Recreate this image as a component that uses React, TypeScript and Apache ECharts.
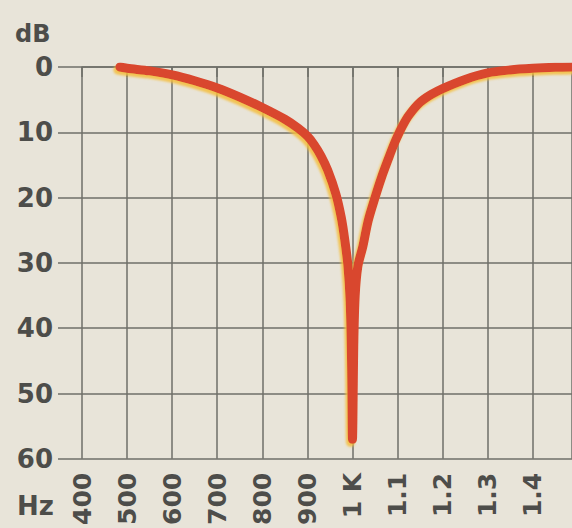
import React, { useEffect, useRef } from "react";
import * as echarts from "echarts";

const freqHz = [484, 500, 550, 600, 650, 700, 750, 800, 850, 880, 900, 915, 930, 945, 963, 975, 983, 990, 995, 998, 1000, 1003, 1006, 1012, 1023, 1035, 1050, 1065, 1080, 1090, 1100, 1112, 1125, 1150, 1175, 1200, 1250, 1300, 1350, 1400, 1450, 1490];
const attenDb = [0, 0.2, 0.6, 1.2, 2.1, 3.2, 4.6, 6.2, 8.0, 9.4, 10.6, 11.9, 13.6, 15.8, 19.4, 23.0, 26.5, 30.5, 36.0, 45.0, 57.0, 42.0, 35.0, 30.5, 27.5, 23.5, 20.0, 16.8, 14.0, 12.2, 10.6, 8.9, 7.4, 5.4, 4.2, 3.3, 1.9, 0.9, 0.45, 0.2, 0.05, 0];

const xTickValues = [400, 500, 600, 700, 800, 900, 1000, 1100, 1200, 1300, 1400];
const xTickLabels = ["400", "500", "600", "700", "800", "900", "1 K", "1.1", "1.2", "1.3", "1.4"];
const yTickValues = [0, 10, 20, 30, 40, 50, 60];

const FONT = "'DejaVu Sans', sans-serif";
const TEXT = "#4d4d4a";
const GRID = "#6f6f68";

export default function App() {
  const ref = useRef<HTMLDivElement>(null);
  useEffect(() => {
    if (!ref.current) return;
    const chart = echarts.init(ref.current, undefined, { renderer: "svg" });
    const labelMap: Record<number, string> = {};
    xTickValues.forEach((v, i) => (labelMap[v] = xTickLabels[i]));
    chart.setOption({
      animation: false,
      backgroundColor: "#e8e4d9",
      grid: { left: 82, right: 0, top: 67, bottom: 65 },
      xAxis: {
        type: "value",
        min: 400,
        max: 1487,
        interval: 100,
        axisLine: { show: true, lineStyle: { color: GRID, width: 1.5 } },
        axisTick: { show: true, inside: false, length: 10, lineStyle: { color: GRID, width: 1.5 } },
        splitLine: { show: true, lineStyle: { color: GRID, width: 1.5 } },
        axisLabel: {
          rotate: 90,
          margin: 14,
          fontFamily: FONT,
          fontWeight: "bold",
          fontSize: 25,
          color: TEXT,
          showMaxLabel: false,
          formatter: (v: number) => labelMap[v] ?? "",
        },
      },
      yAxis: {
        type: "value",
        inverse: true,
        min: 0,
        max: 60,
        interval: 10,
        axisLine: { show: false },
        axisTick: { show: true, inside: false, length: 24, lineStyle: { color: GRID, width: 1.5 } },
        splitLine: { show: true, lineStyle: { color: GRID, width: 1.5 } },
        axisLabel: {
          margin: 29,
          fontFamily: FONT,
          fontWeight: "bold",
          fontSize: 26,
          color: TEXT,
          formatter: (v: number) => (yTickValues.includes(v) ? String(v) : ""),
        },
      },
      graphic: [
        {
          type: "text",
          left: 15,
          top: 22,
          style: { text: "dB", font: `bold 24px ${FONT}`, fill: TEXT },
        },
        {
          type: "text",
          left: 17,
          top: 493,
          style: { text: "Hz", font: `bold 26px ${FONT}`, fill: TEXT },
        },
      ],
      series: [
        {
          type: "line",
          data: freqHz.map((f, i) => [f, attenDb[i]]),
          showSymbol: false,
          smooth: 0.3,
          lineStyle: {
            color: "#d9462e",
            width: 9,
            cap: "round",
            join: "round",
            shadowColor: "rgba(244,190,60,0.85)",
            shadowBlur: 2,
            shadowOffsetX: -2,
            shadowOffsetY: 3,
          },
        },
      ],
    });
    return () => chart.dispose();
  }, []);
  return (
    <div
      ref={ref}
      style={{ position: "fixed", left: 0, top: 0, width: 572, height: 528 }}
    />
  );
}
